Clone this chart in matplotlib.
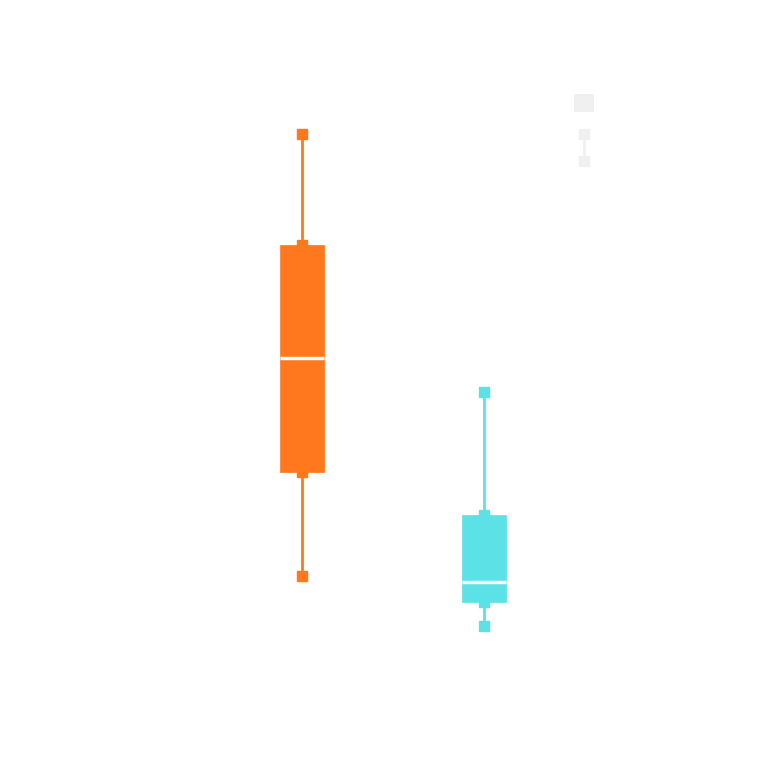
import matplotlib
matplotlib.use('Agg')
import matplotlib.pyplot as plt
from matplotlib.patches import Rectangle

# box statistics (arbitrary units)
labels = ['A', 'B']
whislo = [25.0, 18.5]
q1 = [38.5, 21.6]
med = [53.4, 24.2]
q3 = [68.1, 32.9]
whishi = [82.6, 49.0]
colors = ['#ff781e', '#5ce1e6']
positions = [1, 2]

fig = plt.figure(figsize=(7.68, 7.68), dpi=100)
ax = fig.add_axes([0, 0, 1, 1])

stats = []
for i in range(len(labels)):
    stats.append(dict(label=labels[i], whislo=whislo[i], q1=q1[i], med=med[i],
                      q3=q3[i], whishi=whishi[i], fliers=[]))

bp = ax.bxp(stats, positions=positions, widths=0.24, patch_artist=True,
            showcaps=False, showfliers=False)
for i, c in enumerate(colors):
    bp['boxes'][i].set(facecolor=c, edgecolor=c, linewidth=0.5, zorder=3)
    bp['medians'][i].set(color='white', linewidth=2.5, zorder=4)
    for w in bp['whiskers'][2 * i:2 * i + 2]:
        w.set(color=c, linewidth=2, zorder=2)
    # square markers at whisker ends and where the whisker meets the box
    ax.plot([positions[i]] * 2, [whislo[i], whishi[i]], 's', color=c,
            markersize=7, zorder=2)
    ax.plot([positions[i]] * 2, [q1[i], q3[i]], 's', color=c,
            markersize=7, zorder=2)

# faint legend-like glyph in the top right
grey = '#f0f0f0'
ax.add_patch(Rectangle((574 / 768, 1 - 112 / 768), 20 / 768, 18 / 768,
                       transform=ax.transAxes, color=grey, lw=0))
ax.plot([584 / 768] * 2, [1 - 134 / 768, 1 - 161 / 768], color=grey, lw=2,
        transform=ax.transAxes, marker='s', markersize=7)

ax.set_xlim(1 - 302 / 182, 1 + 466 / 182)
ax.set_ylim(0, 100)
ax.axis('off')

fig.savefig('out.png', dpi=100, facecolor='white')
